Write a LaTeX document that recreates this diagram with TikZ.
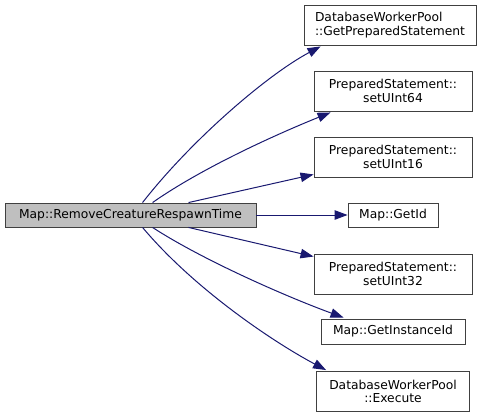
\documentclass[tikz,border=0pt]{standalone}
\usepackage{fontspec}
\setmainfont{DejaVu Sans}
\usetikzlibrary{arrows.meta}
\definecolor{edgeblue}{HTML}{191970}
\definecolor{srcgray}{HTML}{BFBFBF}

\begin{document}
\begin{tikzpicture}[x=1pt, y=1pt,
  fnbox/.style={draw=black!75, fill=white, line width=0.9pt, inner sep=0pt,
    align=center, font=\fontsize{12.3}{13.6}\selectfont},
  call/.style={edgeblue, line width=1pt, -{Triangle[length=13pt, width=9.5pt]}}]
\useasboundingbox (0,0) rectangle (489,-417);

% Caller
\node[fnbox, fill=srcgray, minimum width=251, minimum height=24] (src) at (130.5,-215)
  {Map::RemoveCreatureRespawnTime};

% Callees
\node[fnbox, align=left, minimum width=172, minimum height=40] (gps) at (390,-25)
  {DatabaseWorkerPool\\::GetPreparedStatement};
\node[fnbox, minimum width=158, minimum height=40] (u64) at (393,-91)
  {PreparedStatement::\\setUInt64};
\node[fnbox, minimum width=158, minimum height=40] (u16) at (393,-157)
  {PreparedStatement::\\setUInt16};
\node[fnbox, minimum width=90, minimum height=24] (getid) at (393,-215)
  {Map::GetId};
\node[fnbox, minimum width=158, minimum height=40] (u32) at (393,-274)
  {PreparedStatement::\\setUInt32};
\node[fnbox, minimum width=144, minimum height=25] (gii) at (393,-331.5)
  {Map::GetInstanceId};
\node[fnbox, minimum width=153, minimum height=40] (exec) at (393,-391.5)
  {DatabaseWorkerPool\\::Execute};

% Calls
\draw[call] ([xshift=138]src.north west) .. controls +(52:80) and +(208:60) .. ([xshift=17,yshift=-1]gps.south west);
\draw[call] ([xshift=148]src.north west) .. controls +(35:60) and +(202:60) .. ([xshift=17,yshift=-1]u64.south west);
\draw[call] ([xshift=184]src.north west) -- ([yshift=3]u16.south west);
\draw[call] (src.east) -- (getid.west);
\draw[call] ([xshift=184]src.south west) -- ([yshift=-3]u32.north west);
\draw[call] ([xshift=148]src.south west) .. controls +(-33:60) and +(160:60) .. ([xshift=23,yshift=1]gii.north west);
\draw[call] ([xshift=138]src.south west) .. controls +(-50:80) and +(152:60) .. ([xshift=10,yshift=1]exec.north west);
\end{tikzpicture}
\end{document}
